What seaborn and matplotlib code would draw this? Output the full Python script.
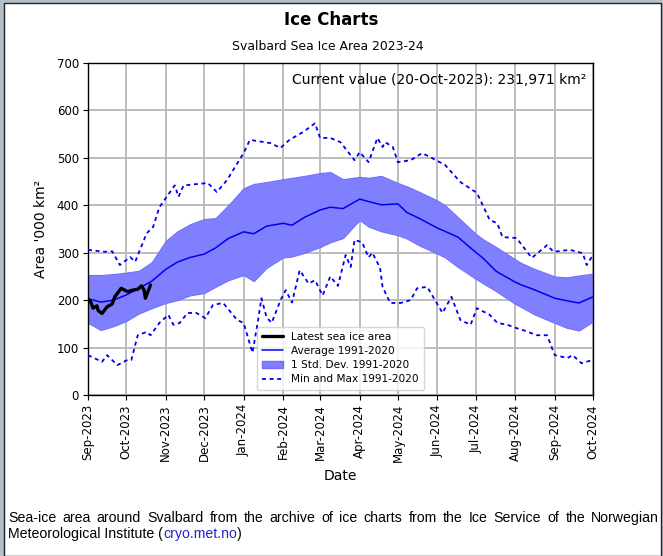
import numpy as np
import pandas as pd
import matplotlib
matplotlib.use("Agg")
import matplotlib.pyplot as plt
import matplotlib.dates as mdates
from matplotlib.patches import Rectangle, Patch
from matplotlib.lines import Line2D
import seaborn as sns

# ---------------- data ----------------
band_dates = ["2023-09-01", "2023-09-11", "2023-09-21", "2023-10-01", "2023-10-11", "2023-10-21",
              "2023-11-01", "2023-11-10", "2023-11-20", "2023-12-01", "2023-12-10", "2023-12-20",
              "2024-01-01", "2024-01-09", "2024-01-19", "2024-02-01", "2024-02-08", "2024-02-18",
              "2024-03-01", "2024-03-09", "2024-03-19", "2024-04-01", "2024-04-08", "2024-04-18",
              "2024-05-01", "2024-05-08", "2024-05-18", "2024-06-01", "2024-06-07", "2024-06-17",
              "2024-07-01", "2024-07-07", "2024-07-17", "2024-08-01", "2024-08-06", "2024-08-16",
              "2024-09-01", "2024-09-10", "2024-09-20", "2024-10-01"]
avg_vals = [203, 196, 200, 211, 225, 240, 265, 280, 290, 297, 310, 330,
            344, 340, 356, 362, 358, 375, 390, 396, 393, 413, 408, 401,
            403, 385, 372, 352, 345, 333, 301, 288, 261, 238, 232, 222,
            204, 199, 194, 207]
upper_vals = [253, 253, 255, 258, 262, 280, 325, 345, 360, 371, 373, 400,
              436, 445, 449, 455, 458, 462, 468, 470, 455, 460, 458, 462,
              447, 440, 428, 410, 400, 375, 340, 328, 312, 286, 278, 266,
              250, 248, 252, 256]
lower_vals = [152, 137, 145, 156, 172, 183, 194, 200, 210, 215, 228, 242,
              253, 240, 268, 290, 292, 300, 312, 322, 331, 369, 355, 345,
              337, 330, 315, 298, 290, 270, 245, 235, 219, 192, 185, 170,
              152, 142, 136, 155]

max_dates = ["2023-09-01", "2023-09-14", "2023-09-20", "2023-09-26", "2023-10-04", "2023-10-08",
             "2023-10-17", "2023-10-22", "2023-10-27", "2023-11-08", "2023-11-11", "2023-11-15",
             "2023-12-04", "2023-12-11", "2023-12-19", "2024-01-01", "2024-01-06", "2024-01-22",
             "2024-01-30", "2024-02-06", "2024-02-17", "2024-02-26", "2024-03-01", "2024-03-09",
             "2024-03-17", "2024-03-28", "2024-04-01", "2024-04-08", "2024-04-15", "2024-04-19",
             "2024-04-21", "2024-04-27", "2024-05-01", "2024-05-11", "2024-05-20", "2024-05-26",
             "2024-06-07", "2024-06-19", "2024-07-02", "2024-07-12", "2024-07-18", "2024-07-22",
             "2024-08-02", "2024-08-14", "2024-08-26", "2024-08-31", "2024-09-13", "2024-09-23",
             "2024-09-26", "2024-10-01"]
max_vals = [306, 302, 303, 274, 291, 281, 341, 354, 396, 442, 418, 442,
            447, 428, 453, 510, 538, 531, 521, 538, 555, 573, 542, 542,
            533, 495, 512, 491, 542, 523, 533, 523, 491, 495, 510, 502,
            485, 449, 426, 369, 362, 333, 331, 289, 316, 302, 306, 299,
            274, 295]

min_dates = ["2023-09-01", "2023-09-12", "2023-09-16", "2023-09-24", "2023-10-02", "2023-10-05",
             "2023-10-10", "2023-10-17", "2023-10-20", "2023-10-27", "2023-11-03", "2023-11-07",
             "2023-11-12", "2023-11-18", "2023-11-25", "2023-12-02", "2023-12-08", "2023-12-16",
             "2023-12-27", "2024-01-01", "2024-01-08", "2024-01-12", "2024-01-15", "2024-01-19",
             "2024-01-23", "2024-01-30", "2024-02-03", "2024-02-08", "2024-02-14", "2024-02-21",
             "2024-02-26", "2024-03-03", "2024-03-09", "2024-03-15", "2024-03-21", "2024-03-25",
             "2024-03-28", "2024-04-03", "2024-04-08", "2024-04-11", "2024-04-17", "2024-04-19",
             "2024-04-25", "2024-05-03", "2024-05-11", "2024-05-16", "2024-05-24", "2024-06-05",
             "2024-06-12", "2024-06-19", "2024-06-27", "2024-07-02", "2024-07-12", "2024-07-18",
             "2024-07-26", "2024-08-02", "2024-08-07", "2024-08-18", "2024-08-26", "2024-09-01",
             "2024-09-11", "2024-09-15", "2024-09-22", "2024-10-01"]
min_vals = [84, 70, 84, 63, 74, 74, 126, 133, 126, 152, 169, 148,
            152, 173, 173, 162, 190, 194, 158, 152, 89, 152, 204, 164,
            152, 200, 221, 195, 263, 235, 242, 210, 250, 230, 295, 270,
            327, 322, 290, 300, 268, 228, 194, 194, 200, 225, 228, 173,
            207, 158, 148, 183, 169, 152, 148, 141, 137, 126, 126, 84,
            78, 84, 67, 74]

latest_dates = ["2023-09-01", "2023-09-03", "2023-09-05", "2023-09-08", "2023-09-09", "2023-09-12",
                "2023-09-16", "2023-09-20", "2023-09-22", "2023-09-27", "2023-10-02", "2023-10-06",
                "2023-10-10", "2023-10-13", "2023-10-15", "2023-10-16", "2023-10-18", "2023-10-20"]
latest_vals = [203, 197, 183, 188, 178, 172, 186, 192, 207, 225, 218, 221,
               223, 230, 221, 204, 218, 232]

month_ticks = pd.date_range("2023-09-01", "2024-10-01", freq="MS")

title_text = "Ice Charts"
subtitle_text = "Svalbard Sea Ice Area 2023-24"
current_text = "Current value (20-Oct-2023): 231,971 km\u00b2"
ylabel_text = "Area '000 km\u00b2"
xlabel_text = "Date"
legend_labels = ["Latest sea ice area", "Average 1991-2020", "1 Std. Dev. 1991-2020", "Min and Max 1991-2020"]
caption_line1 = "Sea-ice area around Svalbard from the archive of ice charts from the Ice Service of the Norwegian"
caption_line2_a = "Meteorological Institute ("
caption_link = "cryo.met.no"
caption_line2_b = ")"

# ---------------- frames ----------------
band = pd.DataFrame({"date": pd.to_datetime(band_dates), "avg": avg_vals,
                     "upper": upper_vals, "lower": lower_vals})
mx = pd.DataFrame({"date": pd.to_datetime(max_dates), "val": max_vals})
mn = pd.DataFrame({"date": pd.to_datetime(min_dates), "val": min_vals})
lt = pd.DataFrame({"date": pd.to_datetime(latest_dates), "val": latest_vals})

# ---------------- figure ----------------
sns.set_theme(style="ticks")
plt.rcParams["font.family"] = ["DejaVu Sans"]
plt.rcParams["text.color"] = "black"
plt.rcParams["axes.labelcolor"] = "black"

W, H = 663, 556
fig = plt.figure(figsize=(W / 100, H / 100), dpi=100)
fig.patch.set_facecolor("#b4bfc9")
fig.add_artist(Rectangle((4 / W, 0), (661 - 4) / W, (H - 3) / H, transform=fig.transFigure,
                         facecolor="white", edgecolor="#222222", linewidth=1.0, zorder=0))

ax = fig.add_axes([88 / W, 1 - 395 / H, (593 - 88) / W, (395 - 63) / H])
ax.set_facecolor("white")

blue = "#0000ee"
dash = (0, (2.2, 2.0))
ax.fill_between(band["date"], band["lower"], band["upper"], color="#8080ff", alpha=1.0,
                linewidth=0.8, edgecolor="#7070ff", zorder=2)
sns.lineplot(data=band, x="date", y="avg", ax=ax, color=blue, linewidth=1.1, zorder=3)
sns.lineplot(data=mx, x="date", y="val", ax=ax, color=blue, linewidth=1.3, linestyle=dash, zorder=3)
sns.lineplot(data=mn, x="date", y="val", ax=ax, color=blue, linewidth=1.3, linestyle=dash, zorder=3)
sns.lineplot(data=lt, x="date", y="val", ax=ax, color="black", linewidth=2.4, zorder=4)

ax.set_xlim(pd.Timestamp("2023-09-01"), pd.Timestamp("2024-10-01"))
ax.set_ylim(0, 700)
ax.set_yticks(range(0, 701, 100))
ax.set_xticks(month_ticks)
ax.xaxis.set_major_formatter(mdates.DateFormatter("%b-%Y"))
plt.setp(ax.get_xticklabels(), rotation=90)
ax.tick_params(axis="both", labelsize=8.5, length=3.5, width=0.8, color="black", labelcolor="black", pad=3)
ax.grid(True, color="#bdbdbd", linewidth=1.4, zorder=0)
ax.set_axisbelow(True)
for s in ax.spines.values():
    s.set_color("black")
    s.set_linewidth(1.0)

ax.set_xlabel(xlabel_text, fontsize=10, color="black", labelpad=5)
ax.set_ylabel(ylabel_text, fontsize=10, color="black", labelpad=6)

ax.text(0.986, 0.949, current_text, transform=ax.transAxes, ha="right", va="center",
        fontsize=10, color="black")

handles = [Line2D([], [], color="black", linewidth=2.4),
           Line2D([], [], color=blue, linewidth=1.1),
           Patch(facecolor="#8080ff", edgecolor="#7070ff"),
           Line2D([], [], color=blue, linewidth=1.3, linestyle=dash)]
leg = ax.legend(handles, legend_labels, loc="lower center", fontsize=7.6, frameon=True,
                framealpha=0.8, edgecolor="#cccccc", borderpad=0.5, handlelength=2.0,
                labelspacing=0.4)
for t in leg.get_texts():
    t.set_color("black")

fig.text(0.5, 1 - 20 / H, title_text, ha="center", va="center", fontsize=12,
         fontweight="bold", color="black")
fig.text(0.495, 1 - 46 / H, subtitle_text, ha="center", va="center", fontsize=8.9, color="black")

# ---------------- caption (justified first line) ----------------
cap_font = dict(family=["Liberation Sans", "DejaVu Sans"], fontsize=10.2)
renderer = fig.canvas.get_renderer()
words = caption_line1.split(" ")
x_left, x_right = 8, 659
y1 = 1 - 518 / H
texts = []
total_w = 0
for w in words:
    t = fig.text(0, y1, w, ha="left", va="center", color="black", **cap_font)
    bb = t.get_window_extent(renderer=renderer)
    texts.append((t, bb.width))
    total_w += bb.width
gap = (x_right - x_left - total_w) / (len(words) - 1)
xpos = x_left
for t, wd in texts:
    t.set_x(xpos / W)
    xpos += wd + gap

y2 = 1 - 534 / H
t2 = fig.text(8 / W, y2, caption_line2_a, ha="left", va="center", color="black", **cap_font)
bb2 = t2.get_window_extent(renderer=renderer)
t3 = fig.text((8 + bb2.width) / W, y2, caption_link, ha="left", va="center", color="#2323c8", **cap_font)
bb3 = t3.get_window_extent(renderer=renderer)
fig.text((8 + bb2.width + bb3.width) / W, y2, caption_line2_b, ha="left", va="center", color="black", **cap_font)

fig.savefig("out.png", dpi=100, facecolor=fig.get_facecolor())
